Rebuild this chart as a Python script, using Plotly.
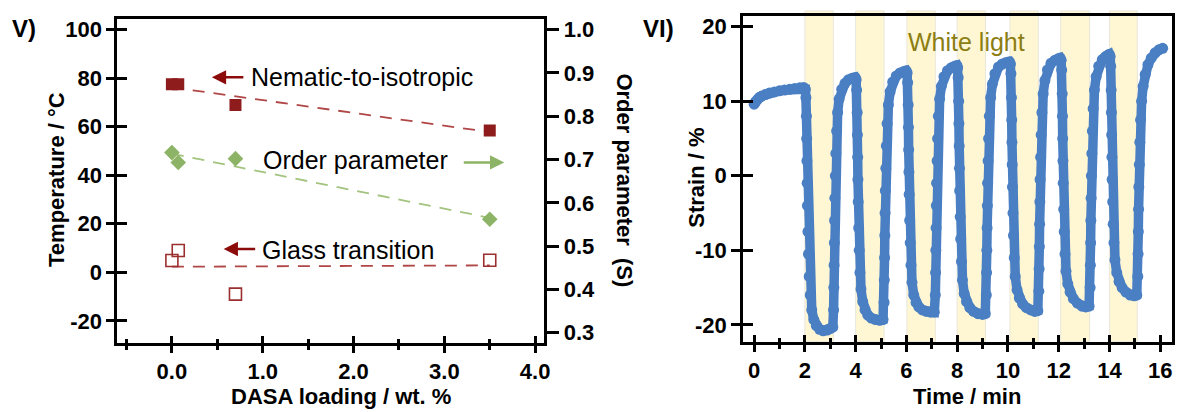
import numpy as np
import plotly.graph_objects as go

# ---------------- Panel V data ----------------
dasa_loading = [0.0, 0.07, 0.7, 3.5]
nematic_iso_T = [77.5, 77.5, 69.0, 58.5]
order_param_S = [0.716, 0.693, 0.702, 0.562]
glass_T = [4.9, 9.0, -9.0, 5.0]

# ---------------- Panel VI data ----------------
light_on = [2.0, 4.0, 6.02, 8.0, 10.08, 12.08, 14.0]
light_off = [3.12, 5.12, 7.14, 9.12, 11.2, 13.22, 15.1]

strain_time = [
    0, 0.05, 0.12, 0.2, 0.3, 0.45, 0.6, 0.8, 1.0, 1.2, 1.4, 1.6, 1.8, 1.95,
    2.02, 2.04, 2.06, 2.07, 2.08, 2.09, 2.10, 2.12, 2.14, 2.17, 2.21, 2.27, 2.35, 2.45, 2.58, 2.72, 2.88, 3.00, 3.10,
    3.13, 3.14, 3.15, 3.16, 3.17, 3.18, 3.20, 3.22, 3.25, 3.29, 3.35, 3.45, 3.58, 3.72, 3.86, 3.98,
    4.02, 4.04, 4.06, 4.07, 4.08, 4.09, 4.10, 4.12, 4.14, 4.17, 4.21, 4.28, 4.37, 4.48, 4.62, 4.78, 4.95, 5.08,
    5.12, 5.13, 5.14, 5.15, 5.16, 5.17, 5.19, 5.21, 5.24, 5.29, 5.36, 5.46, 5.60, 5.75, 5.90, 5.99,
    6.03, 6.05, 6.07, 6.08, 6.09, 6.10, 6.11, 6.13, 6.15, 6.18, 6.22, 6.29, 6.38, 6.49, 6.63, 6.79, 6.96, 7.10,
    7.14, 7.15, 7.16, 7.17, 7.18, 7.19, 7.21, 7.23, 7.26, 7.31, 7.38, 7.48, 7.62, 7.77, 7.90, 7.99,
    8.02, 8.04, 8.06, 8.07, 8.08, 8.09, 8.10, 8.12, 8.14, 8.17, 8.21, 8.28, 8.37, 8.50, 8.65, 8.82, 9.00, 9.11,
    9.15, 9.16, 9.17, 9.18, 9.19, 9.20, 9.22, 9.24, 9.27, 9.32, 9.39, 9.49, 9.63, 9.78, 9.93, 10.06,
    10.10, 10.12, 10.14, 10.15, 10.16, 10.17, 10.18, 10.20, 10.22, 10.25, 10.29, 10.36, 10.45, 10.58, 10.73, 10.90, 11.06, 11.18,
    11.22, 11.23, 11.24, 11.25, 11.26, 11.27, 11.29, 11.31, 11.34, 11.39, 11.46, 11.56, 11.70, 11.85, 11.98, 12.06,
    12.10, 12.12, 12.14, 12.15, 12.16, 12.17, 12.18, 12.20, 12.22, 12.25, 12.29, 12.36, 12.45, 12.58, 12.74, 12.92, 13.07, 13.20,
    13.24, 13.25, 13.26, 13.27, 13.28, 13.29, 13.31, 13.33, 13.36, 13.41, 13.48, 13.58, 13.72, 13.85, 13.95, 14.0,
    14.03, 14.05, 14.07, 14.08, 14.09, 14.10, 14.11, 14.13, 14.15, 14.18, 14.22, 14.29, 14.38, 14.50, 14.65, 14.82, 14.98, 15.08,
    15.12, 15.13, 15.14, 15.15, 15.16, 15.18, 15.20, 15.23, 15.27, 15.33, 15.41, 15.52, 15.65, 15.80, 15.95, 16.10,
]
strain_pct = [
    9.6, 9.9, 10.2, 10.5, 10.7, 10.9, 11.1, 11.25, 11.4, 11.5, 11.6, 11.7, 11.8, 11.85,
    11.6, 10.5, 8.0, 5.0, 2.0, -1.0, -4.0, -7.5, -10.5, -13.5, -16.0, -18.0, -19.3, -20.1, -20.6, -20.8, -20.7, -20.5, -20.3,
    -18.0, -15.0, -12.0, -9.0, -6.0, -3.0, 0.0, 3.0, 6.0, 8.5, 10.3, 11.6, 12.4, 12.9, 13.1, 13.2,
    12.9, 11.5, 8.5, 5.5, 2.5, -0.5, -3.5, -7.0, -10.0, -13.0, -15.2, -16.9, -18.0, -18.7, -19.1, -19.3, -19.4, -19.3,
    -17.0, -14.0, -11.0, -8.0, -5.0, -2.0, 1.0, 4.0, 7.0, 9.5, 11.3, 12.6, 13.4, 13.8, 14.0, 14.1,
    13.8, 12.5, 9.5, 6.5, 3.5, 0.5, -2.5, -6.0, -9.0, -12.0, -14.3, -16.0, -17.0, -17.6, -18.0, -18.2, -18.3, -18.3,
    -16.0, -13.0, -10.0, -7.0, -4.0, -1.0, 2.0, 5.0, 8.0, 10.3, 12.0, 13.3, 14.1, 14.5, 14.7, 14.8,
    14.5, 13.2, 10.0, 7.0, 4.0, 1.0, -2.0, -5.5, -8.5, -11.5, -14.0, -15.8, -16.9, -17.7, -18.2, -18.5, -18.6, -18.5,
    -16.0, -13.0, -10.0, -7.0, -4.0, -1.0, 2.0, 5.0, 8.0, 10.5, 12.3, 13.7, 14.6, 15.0, 15.2, 15.3,
    15.0, 13.7, 10.5, 7.5, 4.5, 1.5, -1.5, -5.0, -8.0, -11.0, -13.5, -15.3, -16.4, -17.2, -17.7, -18.0, -18.2, -18.1,
    -15.5, -12.5, -9.5, -6.5, -3.5, -0.5, 2.5, 5.5, 8.5, 11.0, 12.8, 14.2, 15.1, 15.5, 15.7, 15.8,
    15.5, 14.2, 11.0, 8.0, 5.0, 2.0, -1.0, -4.5, -7.5, -10.5, -12.8, -14.5, -15.6, -16.5, -17.1, -17.5, -17.6, -17.5,
    -15.0, -12.0, -9.0, -6.0, -3.0, 0.0, 3.0, 6.0, 9.0, 11.5, 13.3, 14.7, 15.6, 16.0, 16.2, 16.3,
    16.0, 14.7, 11.5, 8.5, 5.5, 2.5, -0.5, -3.5, -6.5, -9.0, -11.3, -13.0, -14.2, -15.0, -15.6, -16.0, -16.1, -16.0,
    -13.5, -10.5, -7.5, -4.5, -1.5, 1.5, 4.5, 7.5, 10.0, 12.0, 13.6, 14.9, 15.8, 16.5, 16.9, 17.1,
]

x_ticks_left = [0.0, 1.0, 2.0, 3.0, 4.0]
y_ticks_left = [-20, 0, 20, 40, 60, 80, 100]
y_ticks_right = [0.3, 0.4, 0.5, 0.6, 0.7, 0.8, 0.9, 1.0]
x_ticks_vi = [0, 2, 4, 6, 8, 10, 12, 14, 16]
y_ticks_vi = [-20, -10, 0, 10, 20]

FONT = "Arial, Liberation Sans, sans-serif"
DARKRED = "#8e1c1c"
RED_OPEN = "#9b2f2f"
RED_DASH = "#b04646"
GREEN = "#8db466"
GREEN_DASH = "#a3c47f"
BLUE = "#4a7fc3"
BAND = "#fff7d3"

XL_RANGE = [-0.6, 4.1]
YL_RANGE = [-29, 104.5]
Y2_RANGE = [0.277, 1.025]
XR_RANGE = [-0.43, 16.47]
YR_RANGE = [-22.26, 21.46]

fig = go.Figure()

# trend lines (least-squares fits of the data)
fx = [min(dasa_loading), max(dasa_loading)]
p_ni = np.polyfit(dasa_loading, nematic_iso_T, 1)
p_s = np.polyfit(dasa_loading, order_param_S, 1)
p_g = np.polyfit(dasa_loading, glass_T, 1)

fig.add_trace(go.Scatter(x=fx, y=list(np.polyval(p_ni, fx)), mode="lines",
                         line=dict(color=RED_DASH, width=1.8, dash="12px,9px"),
                         xaxis="x", yaxis="y", showlegend=False, hoverinfo="skip"))
fig.add_trace(go.Scatter(x=fx, y=list(np.polyval(p_g, fx)), mode="lines",
                         line=dict(color=RED_DASH, width=1.8, dash="12px,9px"),
                         xaxis="x", yaxis="y", showlegend=False, hoverinfo="skip"))
fig.add_trace(go.Scatter(x=fx, y=list(np.polyval(p_s, fx)), mode="lines",
                         line=dict(color=GREEN_DASH, width=1.8, dash="12px,9px"),
                         xaxis="x", yaxis="y2", showlegend=False, hoverinfo="skip"))

fig.add_trace(go.Scatter(x=dasa_loading, y=nematic_iso_T, mode="markers",
                         marker=dict(symbol="square", size=12, color=DARKRED),
                         xaxis="x", yaxis="y", showlegend=False))
fig.add_trace(go.Scatter(x=dasa_loading, y=glass_T, mode="markers",
                         marker=dict(symbol="square-open", size=12, color=RED_OPEN,
                                     line=dict(width=1.6, color=RED_OPEN)),
                         xaxis="x", yaxis="y", showlegend=False))
fig.add_trace(go.Scatter(x=dasa_loading, y=order_param_S, mode="markers",
                         marker=dict(symbol="diamond", size=12, color=GREEN),
                         xaxis="x", yaxis="y2", showlegend=False))

# strain trace
fig.add_trace(go.Scatter(x=strain_time, y=strain_pct, mode="lines+markers",
                         line=dict(color=BLUE, width=9.5),
                         marker=dict(size=11, color=BLUE),
                         xaxis="x2", yaxis="y3", showlegend=False))

# dummy traces to render the inner halves of the crossing ticks
fig.add_trace(go.Scatter(x=[None], y=[None], xaxis="x3", yaxis="y4", showlegend=False, hoverinfo="skip"))
fig.add_trace(go.Scatter(x=[None], y=[None], xaxis="x4", yaxis="y5", showlegend=False, hoverinfo="skip"))

# light bands
for a, b in zip(light_on, light_off):
    fig.add_shape(type="rect", xref="x2", yref="y3 domain", x0=a, x1=b, y0=0, y1=1.015,
                  fillcolor=BAND, line=dict(color="#e9e6dc", width=1), layer="below")

tickfont = dict(family=FONT, size=22, color="black", weight="bold")
ax_common = dict(showgrid=False, zeroline=False, linecolor="black", linewidth=3,
                 tickcolor="black", tickwidth=3, tickfont=tickfont)

LX = [118 / 1190, 547 / 1190]
LY = [1 - 345 / 412, 1 - 18 / 412]
RX = [747 / 1190, 1178 / 1190]
RY = [1 - 344 / 412, 1 - 15 / 412]


def lab(v, fmt="{:g}"):
    return fmt.format(v).replace("\u2212", "-")


fig.update_layout(
    width=1190, height=412, margin=dict(l=0, r=0, t=0, b=0),
    paper_bgcolor="white", plot_bgcolor="white",
    font=dict(family=FONT, color="black"),
    xaxis=dict(domain=LX, anchor="y", range=XL_RANGE, tickvals=x_ticks_left,
               ticktext=[lab(v, "{:.1f}") for v in x_ticks_left], ticks="outside", ticklen=7,
               minor=dict(dtick=0.5, tick0=0, ticks="outside", ticklen=4, tickwidth=3, tickcolor="black"),
               showline=True, mirror=True, **ax_common),
    yaxis=dict(domain=LY, anchor="x", range=YL_RANGE, tickvals=y_ticks_left,
               ticktext=[lab(v) for v in y_ticks_left],
               ticks="outside", ticklen=8, showline=True, **ax_common),
    yaxis2=dict(overlaying="y", side="right", anchor="x", range=Y2_RANGE, tickvals=y_ticks_right,
                ticktext=[lab(v, "{:.1f}") for v in y_ticks_right], ticks="outside", ticklen=12,
                showline=True, **ax_common),
    xaxis3=dict(overlaying="x", anchor="y", range=XL_RANGE, tickvals=x_ticks_left, ticks="inside",
                ticklen=7, showticklabels=False, showline=False,
                minor=dict(dtick=0.5, tick0=0, ticks="inside", ticklen=4, tickwidth=3, tickcolor="black"),
                **ax_common),
    yaxis4=dict(overlaying="y", anchor="x", side="left", range=YL_RANGE, tickvals=y_ticks_left,
                ticks="inside", ticklen=10, showticklabels=False, showline=False, **ax_common),
    xaxis2=dict(domain=RX, anchor="y3", range=XR_RANGE, tickvals=x_ticks_vi,
                ticktext=[lab(v) for v in x_ticks_vi], ticks="outside", ticklen=7,
                minor=dict(dtick=1, tick0=0, ticks="outside", ticklen=4, tickwidth=3, tickcolor="black"),
                showline=True, mirror=True, **ax_common),
    yaxis3=dict(domain=RY, anchor="x2", range=YR_RANGE, tickvals=y_ticks_vi,
                ticktext=[lab(v) for v in y_ticks_vi], ticks="outside", ticklen=9,
                showline=True, mirror=True, **ax_common),
    xaxis4=dict(overlaying="x2", anchor="y3", range=XR_RANGE, tickvals=x_ticks_vi, ticks="inside",
                ticklen=7, showticklabels=False, showline=False,
                minor=dict(dtick=1, tick0=0, ticks="inside", ticklen=4, tickwidth=3, tickcolor="black"),
                **ax_common),
    yaxis5=dict(overlaying="y3", anchor="x2", side="left", range=YR_RANGE, tickvals=y_ticks_vi,
                ticks="inside", ticklen=10, showticklabels=False, showline=False, **ax_common),
)

titlefont = dict(family=FONT, size=22, color="black", weight="bold")
notefont = dict(family=FONT, size=25, color="black")


def paper_x(px):
    return px / 1190


def paper_y(py):
    return 1 - py / 412


annots = [
    dict(text="V)", x=paper_x(24), y=paper_y(28), font=dict(family=FONT, size=24, weight="bold")),
    dict(text="VI)", x=paper_x(662), y=paper_y(28), font=dict(family=FONT, size=24, weight="bold")),
    dict(text="Temperature / °C", x=paper_x(57), y=paper_y(180), textangle=-90, font=titlefont),
    dict(text="DASA loading / wt. %", x=paper_x(343), y=paper_y(399), font=titlefont),
    dict(text="Order parameter\u00a0\u00a0(S)", x=paper_x(628), y=paper_y(181), textangle=90, font=titlefont),
    dict(text="Strain / %", x=paper_x(700), y=paper_y(178), textangle=-90, font=titlefont),
    dict(text="Time / min", x=paper_x(972), y=paper_y(399), font=titlefont),
]
for a in annots:
    fig.add_annotation(xref="paper", yref="paper", showarrow=False, xanchor="center", yanchor="middle", **a)

# panel V labels and arrows
fig.add_annotation(x=0.845, y=80.4, xref="x", yref="y", text="Nematic-to-isotropic", showarrow=False,
                   xanchor="left", yanchor="middle", font=notefont)
fig.add_annotation(x=0.977, y=46.1, xref="x", yref="y", text="Order parameter", showarrow=False,
                   xanchor="left", yanchor="middle", font=notefont)
fig.add_annotation(x=0.965, y=9.0, xref="x", yref="y", text="Glass transition", showarrow=False,
                   xanchor="left", yanchor="middle", font=notefont)

arrow_common = dict(xref="x", yref="y", text="", showarrow=True, arrowhead=2, arrowsize=1.1,
                    arrowwidth=2.6, ay=0)
fig.add_annotation(x=0.44, y=80.4, ax=33, arrowcolor="#8b0a0a", **arrow_common)
fig.add_annotation(x=0.57, y=9.6, ax=33, arrowcolor="#8b0a0a", **arrow_common)
fig.add_annotation(x=3.66, y=45.3, ax=-42, arrowcolor=GREEN, **arrow_common)

# panel VI label
fig.add_annotation(x=8.37, y=17.9, xref="x2", yref="y3", text="White light", showarrow=False,
                   xanchor="center", yanchor="middle", font=dict(family=FONT, size=25, color="#8c7e12"))

fig.write_html(
    "out.html",
    config={"displayModeBar": False},
    post_script="document.body.style.margin='0';document.body.style.overflow='hidden';",
)
